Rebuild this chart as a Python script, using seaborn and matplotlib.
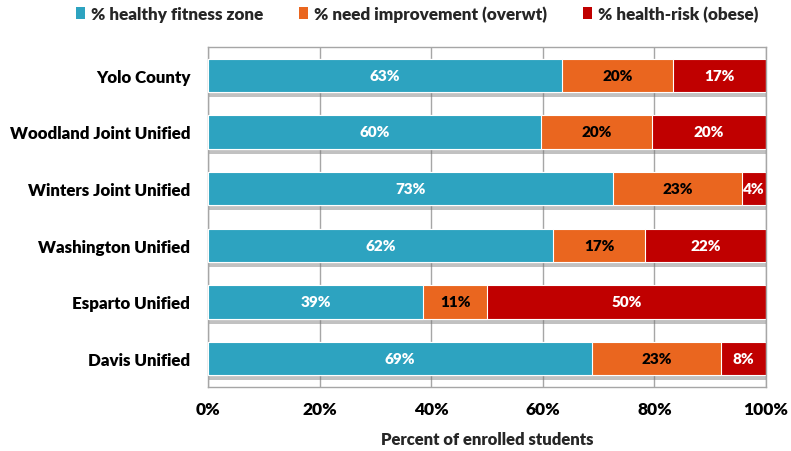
import matplotlib
matplotlib.use("Agg")
import matplotlib.pyplot as plt
import matplotlib.patheffects as pe
from matplotlib.patches import Patch
import numpy as np
import pandas as pd
import seaborn as sns

categories = ["Yolo County", "Woodland Joint Unified", "Winters Joint Unified",
              "Washington Unified", "Esparto Unified", "Davis Unified"]
healthy = [63.4, 59.6, 72.6, 61.8, 38.6, 68.8]
overwt = [19.9, 20.0, 23.1, 16.6, 11.4, 23.1]
obese = [16.7, 20.4, 4.3, 21.6, 50.0, 8.1]
series_names = ["% healthy fitness zone", "% need improvement (overwt)", "% health-risk (obese)"]
xticks = [0, 20, 40, 60, 80, 100]
xtick_labels = ["0%", "20%", "40%", "60%", "80%", "100%"]

colors = ["#2DA3C0", "#EA661F", "#C00000"]
text_colors = ["white", "black", "white"]

sns.set_theme(style="white")
plt.rcParams["font.family"] = ["Lato", "DejaVu Sans"]
plt.rcParams["font.weight"] = "bold"

df = pd.DataFrame({"cat": categories, "h": healthy, "o": overwt, "r": obese})
df["c1"] = df["h"]
df["c2"] = df["h"] + df["o"]
df["c3"] = df["h"] + df["o"] + df["r"]

fig = plt.figure(figsize=(7.91, 4.52), dpi=100)
ax = fig.add_axes([208/791, 1-388/452, 558/791, 340/452])

w = 0.59
sns.barplot(data=df, x="c3", y="cat", color=colors[2], width=w, ax=ax,
            edgecolor="white", linewidth=0.8, saturation=1, zorder=2)
for p in ax.patches:
    p.set_path_effects([pe.SimplePatchShadow(offset=(0, -3.5), shadow_rgbFace="#777777", alpha=0.45),
                        pe.Normal()])
sns.barplot(data=df, x="c2", y="cat", color=colors[1], width=w, ax=ax,
            edgecolor="white", linewidth=0.8, saturation=1, zorder=3)
sns.barplot(data=df, x="c1", y="cat", color=colors[0], width=w, ax=ax,
            edgecolor="white", linewidth=0.8, saturation=1, zorder=4)

for i in range(len(categories)):
    segs = [healthy[i], overwt[i], obese[i]]
    left = 0
    for j, v in enumerate(segs):
        ax.text(left + v/2, i, f"{v:.0f}%", ha="center", va="center",
                color=text_colors[j], fontsize=11, fontweight="heavy", zorder=6)
        left += v

ax.set_xlim(0, 100)
ax.set_ylim(len(categories) - 0.5, -0.5)
ax.set_xticks(xticks)
ax.set_xticklabels(xtick_labels)
ax.xaxis.grid(True, color="#A6A6A6", linewidth=1)
ax.set_axisbelow(True)
ax.set_yticks(range(len(categories)))
ax.set_yticklabels(categories)
ax.set_yticks(np.arange(-0.5, len(categories), 1), minor=True)
ax.tick_params(axis="y", which="major", length=0, pad=12.7, labelsize=12.2)
ax.tick_params(axis="y", which="minor", length=6, color="#A6A6A6", width=1, direction="out")
ax.tick_params(axis="x", length=6, color="#A6A6A6", width=1, direction="out", labelsize=12.5, pad=4)
for lab in ax.get_xticklabels() + ax.get_yticklabels():
    lab.set_fontweight("heavy")
    lab.set_color("black")
ax.set_ylabel("")
ax.set_xlabel("Percent of enrolled students", fontsize=12, fontweight="heavy", labelpad=10)
for s in ax.spines.values():
    s.set_color("#A6A6A6")
    s.set_linewidth(1)

handles = [Patch(facecolor=c, edgecolor="none") for c in colors]
fig.legend(handles, series_names, loc="center", bbox_to_anchor=(417/791, 1-15/452), ncol=3,
           frameon=False, handlelength=0.52, handleheight=0.7,
           handletextpad=0.35, columnspacing=2.1, prop={"weight": "heavy", "size": 12.3})

fig.savefig("out.png", dpi=100)
